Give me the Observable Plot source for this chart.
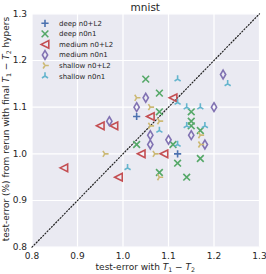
<!DOCTYPE html>
<html>
<head>
<meta charset="utf-8">
<script src="https://cdn.jsdelivr.net/npm/d3@7"></script>
<script src="https://cdn.jsdelivr.net/npm/@observablehq/plot@0.6"></script>
<style>
  html, body { margin: 0; padding: 0; background: white; }
  svg { display: block; }
</style>
</head>
<body>
<div id="chart"></div>
<script>
// ---- data ----
const seriesNames = ["deep n0+L2", "deep n0n1", "medium n0+L2", "medium n0n1", "shallow n0+L2", "shallow n0n1"];
const seriesColors = ["#4C72B0", "#55A868", "#C44E52", "#8172B2", "#CCB974", "#64B5CD"];

const deepL2X = [1.03, 1.12];
const deepL2Y = [1.08, 1.00];
const deepN0n1X = [1.05, 1.08, 1.08, 1.15, 1.15, 1.15, 1.17, 1.03, 1.11, 1.12, 1.17, 1.08, 1.14];
const deepN0n1Y = [1.16, 1.13, 1.09, 1.09, 1.07, 1.06, 1.05, 1.02, 1.02, 0.98, 0.99, 0.96, 0.95];
const medL2X = [1.11, 1.06, 0.95, 0.98, 1.04, 1.09, 0.99, 0.87];
const medL2Y = [1.12, 1.08, 1.06, 1.06, 1.00, 1.00, 0.95, 0.97];
const medN0n1X = [1.05, 1.03, 0.97, 1.22, 1.20, 1.06, 1.06, 1.10, 1.15, 1.18];
const medN0n1Y = [1.12, 1.10, 1.07, 1.17, 1.10, 1.04, 1.02, 1.03, 1.04, 1.02];
const shalL2X = [1.03, 1.06, 1.08, 1.06, 0.96, 1.07, 1.08, 1.17, 1.17];
const shalL2Y = [1.12, 1.10, 1.07, 1.06, 1.00, 1.00, 0.95, 1.04, 1.02];
const shalN0n1X = [1.12, 1.23, 1.12, 1.14, 1.17, 1.08, 1.14, 1.18, 1.12, 1.01];
const shalN0n1Y = [1.16, 1.15, 1.11, 1.10, 1.10, 1.05, 1.06, 1.06, 1.02, 0.97];

const xTicks = [0.8, 0.9, 1.0, 1.1, 1.2, 1.3];
const yTicks = [0.8, 0.9, 1.0, 1.1, 1.2, 1.3];
const diagonal = [0.8, 1.3];

// ---- custom matplotlib-like marker shapes ----
const rad = (size) => Math.sqrt(size / Math.PI);
const symPlus = { draw(c, s) { const r = rad(s); c.moveTo(-r, 0); c.lineTo(r, 0); c.moveTo(0, -r); c.lineTo(0, r); } };
const symTimes = { draw(c, s) { const r = rad(s) * 0.78; c.moveTo(-r, -r); c.lineTo(r, r); c.moveTo(-r, r); c.lineTo(r, -r); } };
const symTriLeftOutline = { draw(c, s) { const r = rad(s); c.moveTo(-r, 0); c.lineTo(r, -r); c.lineTo(r, r); c.closePath(); } };
const symThinDiamond = { draw(c, s) { const r = rad(s); c.moveTo(0, -r); c.lineTo(0.6 * r, 0); c.lineTo(0, r); c.lineTo(-0.6 * r, 0); c.closePath(); } };
const symTriRight = { draw(c, s) { const r = rad(s); c.moveTo(0, 0); c.lineTo(r, 0); c.moveTo(0, 0); c.lineTo(-0.5 * r, -0.8 * r); c.moveTo(0, 0); c.lineTo(-0.5 * r, 0.8 * r); } };
const symTriUp = { draw(c, s) { const r = rad(s); c.moveTo(0, 0); c.lineTo(0, -r); c.moveTo(0, 0); c.lineTo(-0.8 * r, 0.5 * r); c.moveTo(0, 0); c.lineTo(0.8 * r, 0.5 * r); } };

const series = [
  { xs: deepL2X, ys: deepL2Y, sym: symPlus, r: 3.6 },
  { xs: deepN0n1X, ys: deepN0n1Y, sym: symTimes, r: 4.3 },
  { xs: medL2X, ys: medL2Y, sym: symTriLeftOutline, r: 3.8 },
  { xs: medN0n1X, ys: medN0n1Y, sym: symThinDiamond, r: 4.4 },
  { xs: shalL2X, ys: shalL2Y, sym: symTriRight, r: 3.8 },
  { xs: shalN0n1X, ys: shalN0n1Y, sym: symTriUp, r: 3.8 }
].map((s, i) => ({ ...s, name: seriesNames[i], color: seriesColors[i] }));

const dotMarks = series.map(s => Plot.dot(s.xs.map((x, j) => ({ x, y: s.ys[j] })), {
  x: "x", y: "y", symbol: s.sym, r: s.r, fill: "none", stroke: s.color, strokeWidth: 1.6
}));

const fmt = d3.format(".1f");
const chart = Plot.plot({
  width: 266,
  height: 274,
  marginLeft: 31.5,
  marginRight: 7,
  marginTop: 13.3,
  marginBottom: 27.3,
  style: { fontFamily: "DejaVu Sans", fontSize: "9px", color: "#262626", background: "white", overflow: "visible" },
  x: { domain: [0.8, 1.3], ticks: xTicks, tickFormat: fmt, label: null, tickSize: 0, tickPadding: 5 },
  y: { domain: [0.8, 1.3], ticks: yTicks, tickFormat: fmt, label: null, tickSize: 0, tickPadding: 5 },
  marks: [
    Plot.frame({ fill: "#EAEAF2", stroke: "none" }),
    Plot.gridX(xTicks, { stroke: "white", strokeOpacity: 1, strokeWidth: 1.2 }),
    Plot.gridY(yTicks, { stroke: "white", strokeOpacity: 1, strokeWidth: 1.2 }),
    Plot.line(diagonal, { x: d => d, y: d => d, stroke: "#222", strokeWidth: 1.2, strokeDasharray: "1.1,2" }),
    ...dotMarks
  ]
});
document.getElementById("chart").appendChild(chart);

// ---- title, axis labels, legend ----
const svg = d3.select(chart);
const ink = "#262626";
svg.append("text").attr("x", 145.3).attr("y", 10.5).attr("text-anchor", "middle")
  .attr("font-size", "10.5px").attr("fill", ink).text("mnist");

const xl = svg.append("text").attr("x", 145.3).attr("y", 270).attr("text-anchor", "middle")
  .attr("font-size", "9px").attr("fill", ink);
xl.append("tspan").text("test-error with ");
xl.append("tspan").attr("font-style", "italic").text("T");
xl.append("tspan").attr("font-size", "6.3px").attr("dy", "2").text("1");
xl.append("tspan").attr("dy", "-2").text(" − ");
xl.append("tspan").attr("font-style", "italic").text("T");
xl.append("tspan").attr("font-size", "6.3px").attr("dy", "2").text("2");

const yl = svg.append("text").attr("transform", "translate(8.5,129) rotate(-90)").attr("text-anchor", "middle")
  .attr("font-size", "9px").attr("fill", ink);
yl.append("tspan").text("test-error (%) from rerun with final ");
yl.append("tspan").attr("font-style", "italic").text("T");
yl.append("tspan").attr("font-size", "6.3px").attr("dy", "2").text("1");
yl.append("tspan").attr("dy", "-2").text(" − ");
yl.append("tspan").attr("font-style", "italic").text("T");
yl.append("tspan").attr("font-size", "6.3px").attr("dy", "2").text("2");
yl.append("tspan").attr("dy", "-2").text(" hypers");

const legend = svg.append("g");
series.forEach((s, i) => {
  const y = 23.3 + i * 10.55;
  legend.append("path")
    .attr("d", d3.symbol(s.sym, s.r * s.r * Math.PI)())
    .attr("transform", `translate(45,${y})`)
    .attr("fill", "none").attr("stroke", s.color).attr("stroke-width", 1.6);
  legend.append("text").attr("x", 59).attr("y", y).attr("dy", "0.35em")
    .attr("text-anchor", "start")
    .attr("font-size", "7px").attr("fill", ink).text(s.name);
});
</script>
</body>
</html>
